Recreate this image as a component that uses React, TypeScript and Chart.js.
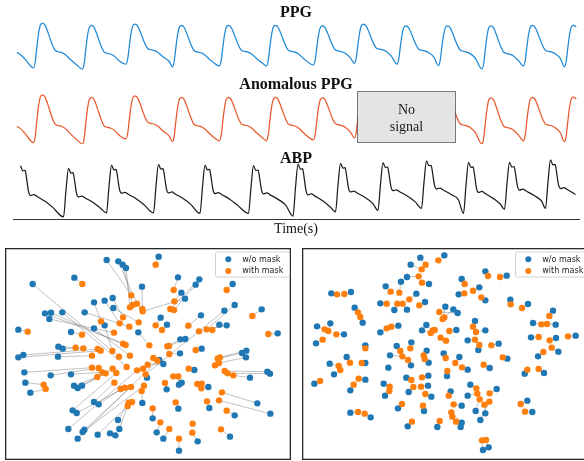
import React, { useEffect, useRef } from "react";
import { Chart, registerables } from "chart.js";

Chart.register(...registerables);

// ---------------- Waveform data (time in s, 0 = left end of the time axis) ----------------
const TIME_AXIS_MAX = 11.32;
const PPG_T_START = 0.07;
const PPG_T_END = 11.28;
const ABP_T_START = 0.12;
const ABP_T_END = 11.26;

// one PPG pulse: offset after the foot (s) and relative level (0 = foot, 1 = peak)
const ppgPulseOffsets = [0, 0.034, 0.068, 0.1, 0.134, 0.18, 0.234, 0.3, 0.368, 0.434, 0.5, 0.568, 0.634, 0.734, 0.868];
const ppgPulseLevels = [0, 0.13, 0.47, 0.76, 0.95, 1, 0.95, 0.76, 0.54, 0.39, 0.36, 0.34, 0.3, 0.19, 0.06];
// per-beat foot times (s), foot and peak amplitudes (a.u.)
const ppgFeet = [-0.49, 0.41, 1.39, 2.26, 3.19, 4.13, 5.07, 6.01, 6.83, 7.68, 8.51, 9.38, 10.21, 11.03];
const ppgFootValues = [0.05, 0.05, 0.02, 0.13, 0.07, 0.09, 0.09, 0.11, 0.15, 0.13, 0.1, 0.02, 0.09, 0.07];
const ppgPeakValues = [1.04, 1.04, 0.99, 1.02, 0.99, 0.99, 0.99, 0.98, 1.02, 0.98, 0.98, 0.98, 0.99, 1.0];

// masked ("No signal") segment of the anomalous PPG (s)
const maskStart = 6.88;
const maskEnd = 8.84;

// one ABP pulse: offset after the diastolic foot (s) and relative level
const abpPulseOffsets = [0, 0.05, 0.1, 0.148, 0.192, 0.22, 0.26, 0.3, 0.368, 0.434, 0.6, 0.74];
const abpPulseLevels = [0, 0.55, 1, 0.9, 0.91, 0.76, 0.49, 0.41, 0.43, 0.39, 0.29, 0.18];
// per-beat foot times (s), diastolic and systolic pressures (mmHg)
const abpFeet = [0.05, 1.01, 1.87, 2.81, 3.74, 4.71, 5.6, 6.45, 7.3, 8.17, 9.01, 9.83, 10.65];
const abpDiastolic = [58.9, 58.0, 63.3, 63.3, 62.5, 62.5, 58.9, 64.6, 66.8, 69.0, 62.5, 67.7, 69.0];
const abpSystolic = [124.9, 121.5, 125.8, 126.7, 125.8, 124.9, 127.1, 128.0, 128.8, 131.1, 129.4, 129.4, 132.4];

// ---------------- t-SNE embeddings ----------------
// first LEFT_LINKS points of each list are matched pairs (same sample w/o and with mask)
const LEFT_LINKS = 91;
const leftBlueX = [47.6, 32.0, 35.5, 36.8, 37.8, 22.3, 9.8, 53.4, 59.8, 58.7, 42.6, 54.4, 55.5, 69.8, 33.8, 31.4, 28.2, 34.0, 70.4, 67.3, 13.5, 15.3, 18.7, 14.8, 25.4, 60.3, 48.2, 50.1, 65.8, 68.0, 78.5, 5.5, 31.4, 28.2, 21.3, 41.5, 83.3, 54.1, 55.6, 17.5, 18.8, 60.5, 54.0, 73.9, 72.6, 5.5, 7.0, 17.4, 73.8, 47.8, 49.0, 7.3, 15.2, 21.3, 58.3, 80.2, 81.0, 75.0, 44.1, 7.6, 9.1, 22.2, 23.3, 24.6, 53.7, 54.5, 62.5, 42.7, 28.2, 29.6, 77.2, 81.1, 21.8, 23.0, 53.5, 62.8, 70.4, 45.8, 35.4, 35.8, 20.5, 25.3, 24.8, 29.3, 47.0, 49.0, 69.0, 59.3, 53.7, 50.0, 23.3, 33.0, 34.6];
const leftBlueY = [5.0, 6.0, 6.4, 7.4, 8.4, 11.3, 13.2, 11.2, 11.8, 13.4, 14.0, 15.8, 17.6, 13.2, 17.4, 18.2, 18.7, 20.4, 19.5, 21.2, 22.0, 21.8, 21.7, 23.7, 21.7, 22.6, 23.3, 25.4, 25.4, 25.6, 20.8, 26.9, 25.6, 26.5, 27.6, 27.7, 28.0, 29.8, 29.7, 32.0, 32.6, 32.6, 34.0, 33.2, 33.9, 35.2, 34.5, 35.0, 35.2, 36.0, 37.2, 39.7, 40.6, 40.3, 39.0, 39.5, 40.1, 41.3, 41.3, 42.8, 45.8, 43.7, 44.4, 43.7, 43.4, 42.8, 44.1, 48.9, 48.6, 49.3, 49.0, 52.1, 51.1, 51.9, 50.6, 50.4, 52.6, 53.5, 54.0, 56.7, 56.7, 56.9, 57.6, 58.4, 57.7, 59.6, 59.0, 60.4, 63.2, 44.8, 59.6, 58.0, 58.6];
const leftOrangeX = [46.7, 39.4, 41.1, 39.8, 39.0, 24.7, 35.7, 52.1, 51.1, 52.2, 42.7, 52.3, 42.8, 68.0, 36.9, 35.9, 30.3, 41.6, 62.0, 43.7, 36.9, 37.7, 38.0, 34.2, 38.8, 56.5, 46.7, 48.6, 63.7, 59.7, 75.7, 8.3, 33.7, 39.0, 24.6, 44.8, 80.5, 50.2, 50.7, 22.7, 25.0, 58.7, 50.8, 66.0, 65.3, 30.2, 29.3, 27.6, 65.7, 46.0, 44.3, 27.6, 29.6, 30.7, 56.6, 67.4, 68.3, 70.0, 42.9, 13.1, 13.7, 29.2, 31.7, 33.8, 53.5, 52.0, 60.4, 42.5, 34.3, 36.2, 66.6, 65.7, 34.9, 37.5, 52.7, 62.1, 68.0, 45.8, 38.6, 38.3, 41.1, 39.3, 43.2, 39.6, 48.1, 50.8, 66.3, 57.7, 53.7, 49.5, 47.2, 64.5, 59.2, 60.5, 57.8];
const leftOrangeY = [7.4, 16.6, 19.1, 19.5, 20.2, 13.2, 35.0, 15.0, 20.7, 21.0, 20.7, 18.4, 21.4, 15.0, 23.2, 25.0, 24.4, 24.7, 26.8, 40.3, 31.1, 31.5, 38.1, 27.8, 26.0, 25.7, 25.6, 27.0, 27.0, 27.4, 22.8, 27.5, 33.3, 34.7, 28.4, 31.6, 28.2, 31.9, 31.8, 32.3, 32.5, 33.0, 34.2, 35.2, 35.6, 33.2, 32.7, 34.7, 36.9, 35.4, 37.4, 38.3, 38.4, 39.7, 38.6, 39.3, 40.0, 40.6, 38.6, 43.4, 44.7, 41.1, 40.0, 38.6, 40.9, 40.9, 44.5, 45.3, 42.8, 44.7, 45.7, 48.1, 39.9, 44.3, 48.7, 48.4, 51.2, 50.5, 48.8, 49.8, 39.1, 44.1, 43.7, 48.6, 54.7, 56.7, 56.8, 57.8, 59.6, 42.9, 36.2, 37.6, 43.2, 43.1, 55.1];

const RIGHT_LINKS = 98;
const rightBlueX = [45.7, 38.5, 35.6, 58.0, 64.4, 50.9, 41.1, 34.5, 28.1, 56.2, 11.8, 17.7, 37.3, 50.0, 58.0, 65.5, 70.8, 39.9, 26.5, 34.5, 30.7, 18.8, 46.0, 48.4, 49.7, 78.3, 21.2, 11.5, 7.5, 31.9, 26.5, 40.3, 39.0, 54.9, 58.0, 79.1, 72.3, 15.6, 7.2, 52.7, 55.9, 62.0, 71.7, 79.2, 85.1, 79.9, 73.8, 22.0, 31.4, 35.8, 40.4, 29.4, 45.5, 50.2, 16.4, 22.0, 11.3, 35.7, 41.0, 12.6, 52.7, 59.3, 64.6, 69.8, 75.6, 6.7, 34.3, 46.5, 40.9, 27.5, 35.0, 40.8, 53.5, 61.4, 17.5, 41.8, 52.7, 27.9, 47.6, 70.6, 50.9, 31.8, 55.1, 39.6, 58.0, 17.5, 23.6, 56.5, 72.1, 50.9, 50.6, 34.7, 43.6, 57.3, 59.0, 22.0, 32.7, 49.3, 28.9];
const rightBlueY = [4.6, 5.3, 7.4, 9.4, 10.7, 11.7, 13.2, 11.1, 13.9, 14.2, 16.0, 15.6, 16.1, 16.3, 18.1, 17.9, 19.2, 18.6, 19.0, 20.9, 21.0, 20.3, 20.0, 20.8, 21.9, 21.2, 24.8, 25.0, 25.9, 25.7, 27.7, 25.5, 27.1, 24.3, 27.1, 25.4, 24.9, 28.3, 31.0, 30.1, 33.0, 31.1, 29.2, 29.4, 28.7, 33.5, 34.9, 31.6, 31.8, 30.7, 33.2, 34.6, 34.0, 35.1, 35.1, 36.9, 37.1, 37.6, 36.8, 40.3, 38.9, 38.4, 35.6, 40.1, 39.9, 43.1, 41.3, 40.8, 40.7, 43.1, 45.6, 43.7, 43.4, 44.7, 45.1, 47.0, 46.7, 46.7, 45.4, 48.2, 49.7, 50.5, 51.3, 51.3, 52.0, 51.8, 53.2, 54.0, 51.6, 54.8, 56.1, 55.9, 56.1, 63.0, 62.2, 41.9, 12.5, 27.0, 38.3];
const rightOrangeX = [43.9, 40.1, 38.9, 58.8, 62.4, 51.8, 39.0, 38.0, 29.6, 54.3, 13.5, 15.7, 35.2, 51.7, 56.8, 65.6, 69.0, 38.2, 28.4, 33.2, 31.6, 19.8, 45.2, 45.7, 44.2, 77.2, 20.5, 10.9, 9.8, 29.8, 28.4, 42.2, 41.6, 54.3, 55.2, 76.5, 74.8, 13.3, 9.2, 54.9, 56.2, 59.8, 74.0, 77.3, 82.8, 77.9, 75.4, 22.0, 32.5, 35.5, 39.5, 33.1, 46.1, 49.0, 17.4, 20.9, 14.0, 34.8, 39.8, 14.5, 51.0, 57.5, 63.2, 70.6, 74.0, 8.4, 35.8, 46.6, 39.0, 29.3, 36.4, 38.7, 55.3, 59.3, 18.5, 40.0, 55.6, 29.2, 47.0, 68.6, 48.5, 33.0, 56.3, 39.3, 57.7, 19.8, 21.8, 59.2, 69.9, 47.8, 49.2, 36.0, 44.3, 57.0, 58.2, 20.0, 32.2, 47.2, 42.8, 44.6, 46.2, 48.1];
const rightOrangeY = [6.1, 7.4, 8.8, 10.8, 11.1, 13.2, 12.8, 10.9, 15.5, 15.2, 16.3, 16.2, 17.8, 16.0, 17.2, 19.3, 20.4, 19.6, 19.1, 19.1, 19.1, 21.7, 23.7, 23.2, 21.6, 22.8, 23.1, 27.3, 26.8, 26.0, 26.5, 27.1, 27.9, 26.0, 27.6, 25.2, 25.3, 28.3, 29.9, 29.9, 31.5, 31.6, 29.1, 30.1, 28.9, 32.3, 33.6, 32.5, 33.3, 32.5, 34.6, 34.9, 35.4, 36.9, 36.8, 36.9, 37.8, 36.0, 35.7, 39.0, 38.2, 37.4, 35.2, 38.9, 38.7, 42.3, 42.0, 39.3, 41.2, 44.0, 44.1, 44.0, 44.5, 46.0, 43.4, 46.2, 46.1, 45.3, 46.7, 49.2, 49.3, 49.2, 47.8, 49.7, 49.4, 51.6, 52.1, 48.5, 51.5, 51.7, 54.5, 54.5, 54.3, 60.1, 60.0, 41.6, 15.8, 27.3, 27.0, 29.3, 30.2, 53.0];

const legendLabels = ["w/o mask", "with mask"];

// ---------------- helpers ----------------
const BLUE = "#1f77b4";
const ORANGE = "#ff7f0e";

function beatSeries(feet: number[], lows: number[], highs: number[], offs: number[], levels: number[], tStart: number, tEnd: number) {
  const pts: { x: number; y: number }[] = [];
  feet.forEach((t0, i) => {
    const next = i + 1 < feet.length ? feet[i + 1] : Infinity;
    for (let k = 0; k < offs.length; k++) {
      const t = t0 + offs[k];
      if (k > 0 && t > next - 0.05) break;
      if (t < tStart || t > tEnd) continue;
      pts.push({ x: t, y: lows[i] + levels[k] * (highs[i] - lows[i]) });
    }
  });
  return pts;
}

function zipPoints(xs: number[], ys: number[]) {
  return xs.map((x, i) => ({ x, y: ys[i] }));
}

const panelTitlePlugin = {
  id: "panelTitle",
  afterDraw(chart: any, _a: any, opts: any) {
    if (!opts || !opts.text) return;
    const { ctx, chartArea } = chart;
    ctx.save();
    ctx.font = `bold ${opts.size}px "Liberation Serif", "Times New Roman", serif`;
    ctx.fillStyle = "#111";
    ctx.textAlign = "center";
    ctx.textBaseline = "alphabetic";
    ctx.fillText(opts.text, (chartArea.left + chartArea.right) / 2, opts.baseline);
    ctx.restore();
  },
};

const maskBoxPlugin = {
  id: "maskBox",
  afterDatasetsDraw(chart: any, _a: any, opts: any) {
    if (!opts || opts.from == null) return;
    const { ctx, chartArea, scales } = chart;
    const x0 = Math.round(scales.x.getPixelForValue(opts.from)) + 0.5;
    const x1 = Math.round(scales.x.getPixelForValue(opts.to)) + 0.5;
    const top = chartArea.top - 2 + 0.5;
    const bottom = chartArea.bottom - 2 + 0.5;
    ctx.save();
    ctx.fillStyle = "#e4e4e4";
    ctx.fillRect(x0, top, x1 - x0, bottom - top);
    ctx.setLineDash([1, 1]);
    ctx.strokeStyle = "#000";
    ctx.lineWidth = 1;
    ctx.strokeRect(x0, top, x1 - x0, bottom - top);
    ctx.setLineDash([]);
    ctx.fillStyle = "#1a1a1a";
    ctx.font = `14px "Liberation Serif", "Times New Roman", serif`;
    ctx.textAlign = "center";
    ctx.textBaseline = "alphabetic";
    const cx = (x0 + x1) / 2;
    const cy = (top + bottom) / 2;
    ctx.fillText(opts.lines[0], cx, cy - 3);
    ctx.fillText(opts.lines[1], cx, cy + 13.5);
    ctx.restore();
  },
};

const linksPlugin = {
  id: "pairLinks",
  beforeDatasetsDraw(chart: any, _a: any, opts: any) {
    if (!opts || !opts.count) return;
    const { ctx, scales } = chart;
    ctx.save();
    ctx.strokeStyle = "rgba(110,110,110,0.42)";
    ctx.lineWidth = 1;
    for (let i = 0; i < opts.count; i++) {
      ctx.beginPath();
      ctx.moveTo(scales.x.getPixelForValue(opts.ax[i]), scales.y.getPixelForValue(opts.ay[i]));
      ctx.lineTo(scales.x.getPixelForValue(opts.bx[i]), scales.y.getPixelForValue(opts.by[i]));
      ctx.stroke();
    }
    ctx.restore();
  },
};

const frameLegendPlugin = {
  id: "frameLegend",
  afterDraw(chart: any) {
    const { ctx, chartArea } = chart;
    ctx.save();
    ctx.strokeStyle = "#2a2a2a";
    ctx.lineWidth = 1.3;
    ctx.strokeRect(chartArea.left + 0.65, chartArea.top + 0.65, chartArea.right - chartArea.left - 1.3, chartArea.bottom - chartArea.top - 1.3);
    // legend box (top right, inside the axes)
    const w = 74;
    const h = 25;
    const right = chartArea.right - 2;
    const left = right - w;
    const top = chartArea.top + 3.5;
    ctx.fillStyle = "rgba(255,255,255,0.85)";
    ctx.strokeStyle = "#d2d2d2";
    ctx.lineWidth = 1;
    ctx.beginPath();
    (ctx as any).roundRect(left + 0.5, top + 0.5, w, h, 2);
    ctx.fill();
    ctx.stroke();
    const ds = chart.data.datasets;
    const rows = [ds[1], ds[0]];
    ctx.font = `8px "DejaVu Sans", sans-serif`;
    ctx.textAlign = "left";
    ctx.textBaseline = "middle";
    rows.forEach((d: any, i: number) => {
      const y = top + 7.7 + i * 11.7;
      ctx.fillStyle = d.backgroundColor;
      ctx.beginPath();
      ctx.arc(left + 13.3, y, 3, 0, Math.PI * 2);
      ctx.fill();
      ctx.fillStyle = "#222";
      ctx.fillText(d.label, left + 27.3, y + 0.5);
    });
    ctx.restore();
  },
};

function waveConfig(o: {
  data: { x: number; y: number }[];
  color: string;
  yMin: number;
  yMax: number;
  title: string;
  baseline: number;
  padTop: number;
  showTime: boolean;
  mask?: boolean;
}) {
  return {
    type: "line",
    data: {
      datasets: [
        {
          data: o.data,
          borderColor: o.color,
          borderWidth: 1.25,
          pointRadius: 0,
          cubicInterpolationMode: "monotone",
          fill: false,
        },
      ],
    },
    options: {
      animation: false,
      responsive: false,
      devicePixelRatio: 1,
      events: [],
      layout: { autoPadding: false, padding: { left: 13, right: 5, top: o.padTop, bottom: o.showTime ? 0 : 2 } },
      scales: {
        x: {
          type: "linear",
          min: 0,
          max: TIME_AXIS_MAX,
          display: o.showTime,
          grid: { display: false, drawTicks: false },
          ticks: { display: false },
          border: { display: true, color: "#333", width: 1 },
          title: {
            display: o.showTime,
            text: "Time(s)",
            color: "#111",
            font: { family: '"Liberation Serif", "Times New Roman", serif', size: 14 },
            padding: { top: 2, bottom: 4 },
          },
        },
        y: { display: false, min: o.yMin, max: o.yMax },
      },
      plugins: {
        legend: { display: false },
        tooltip: { enabled: false },
        panelTitle: { text: o.title, baseline: o.baseline, size: 16 },
        maskBox: o.mask ? { from: maskStart, to: maskEnd, lines: ["No", "signal"] } : {},
      },
    },
    plugins: [panelTitlePlugin, maskBoxPlugin],
  };
}

function scatterConfig(o: {
  bx: number[]; by: number[]; ox: number[]; oy: number[]; links: number;
  xMin: number; xMax: number; yMin: number; yMax: number;
}) {
  return {
    type: "scatter",
    data: {
      datasets: [
        { label: legendLabels[1], data: zipPoints(o.ox, o.oy), backgroundColor: ORANGE, borderWidth: 0, pointRadius: 3.2, order: 1 },
        { label: legendLabels[0], data: zipPoints(o.bx, o.by), backgroundColor: BLUE, borderWidth: 0, pointRadius: 3.2, order: 2 },
      ],
    },
    options: {
      animation: false,
      responsive: false,
      devicePixelRatio: 1,
      events: [],
      layout: { autoPadding: false, padding: 0 },
      scales: {
        x: { type: "linear", display: false, min: o.xMin, max: o.xMax },
        y: { type: "linear", display: false, min: o.yMin, max: o.yMax, reverse: true },
      },
      plugins: {
        legend: { display: false },
        tooltip: { enabled: false },
        pairLinks: { count: o.links, ax: o.bx, ay: o.by, bx: o.ox, by: o.oy },
      },
    },
    plugins: [linksPlugin, frameLegendPlugin],
  };
}

function ChartBox({ left, top, width, height, make }: { left: number; top: number; width: number; height: number; make: () => any }) {
  const ref = useRef<HTMLCanvasElement | null>(null);
  useEffect(() => {
    if (!ref.current) return;
    const chart = new Chart(ref.current, make());
    return () => chart.destroy();
  }, []);
  return (
    <div style={{ position: "absolute", left, top, width, height }}>
      <canvas ref={ref} width={width} height={height} style={{ display: "block", width, height }} />
    </div>
  );
}

export default function App() {
  const ppg = beatSeries(ppgFeet, ppgFootValues, ppgPeakValues, ppgPulseOffsets, ppgPulseLevels, PPG_T_START, PPG_T_END);
  const abp = beatSeries(abpFeet, abpDiastolic, abpSystolic, abpPulseOffsets, abpPulseLevels, ABP_T_START, ABP_T_END);
  return (
    <div style={{ position: "absolute", left: 0, top: 0, width: 584, height: 461, overflow: "hidden", background: "#fff" }}>
      <ChartBox left={0} top={0} width={584} height={74}
        make={() => waveConfig({ data: ppg, color: "#2089d6", yMin: -0.044, yMax: 1.089, title: "PPG", baseline: 17.3, padTop: 21, showTime: false })} />
      <ChartBox left={0} top={72} width={584} height={74}
        make={() => waveConfig({ data: ppg, color: "#e8582c", yMin: 0.023, yMax: 1.081, title: "Anomalous PPG", baseline: 17.3, padTop: 21, showTime: false, mask: true })} />
      <ChartBox left={0} top={146} width={584} height={96}
        make={() => waveConfig({ data: abp, color: "#1c1c1c", yMin: 55, yMax: 135, title: "ABP", baseline: 16.5, padTop: 12, showTime: true })} />
      <ChartBox left={5} top={248} width={286} height={212}
        make={() => scatterConfig({ bx: leftBlueX, by: leftBlueY, ox: leftOrangeX, oy: leftOrangeY, links: LEFT_LINKS, xMin: 1.5, xMax: 87.3, yMin: 2.4, yMax: 66.0 })} />
      <ChartBox left={302} top={248} width={289} height={212}
        make={() => scatterConfig({ bx: rightBlueX, by: rightBlueY, ox: rightOrangeX, oy: rightOrangeY, links: RIGHT_LINKS, xMin: 3.0, xMax: 89.7, yMin: 2.4, yMax: 66.0 })} />
    </div>
  );
}
